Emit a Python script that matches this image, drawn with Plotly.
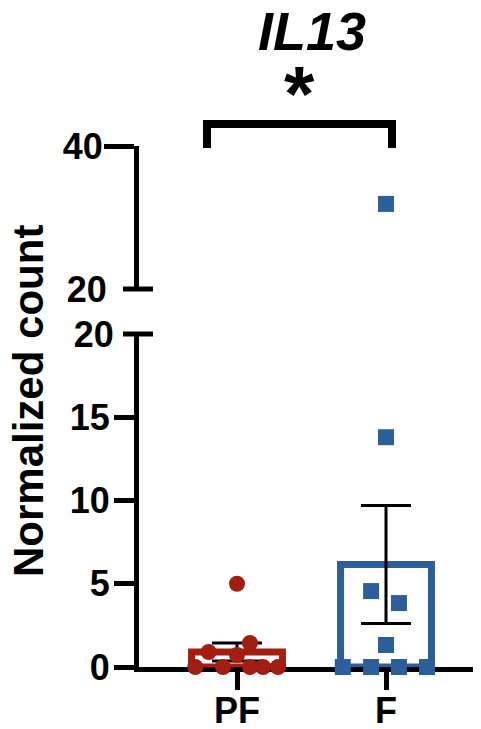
import numpy as np
import plotly.graph_objects as go

# ---- data ----
groups = ["PF", "F"]
pf_values = [5.0, 1.44, 0.9, 0.72, 0.0, 0.0, 0.0, 0.0, 0.0]
f_values = [31.9, 13.8, 4.56, 3.84, 1.32, 0.0, 0.0, 0.0, 0.0]
lower_ticks = [0, 5, 10, 15]
upper_ticks = [40]
break_value = 20

# horizontal scatter offsets of points (layout, not data)
pf_jitter = [0.0, 0.087, -0.19, 0.0, -0.28, -0.094, 0.087, 0.175, 0.275]
f_jitter = [0.0, 0.0, -0.1, 0.087, 0.0, -0.29, -0.1, 0.087, 0.275]

RED = "#A11E10"
BLUE = "#2C5E9B"
FONT = "Liberation Sans"

OFF = 8                      # page body margin
W, H = 481 - OFF, 729 - OFF


def px_(p):
    return (p - OFF) / W


def py(p):
    return 1 - (p - OFF) / H


low_dom = [py(667), py(334)]
up_dom = [py(289), py(146)]

fig = go.Figure()

means = [np.mean(pf_values), np.mean(f_values)]
sems = [np.std(pf_values, ddof=1) / np.sqrt(len(pf_values)),
        np.std(f_values, ddof=1) / np.sqrt(len(f_values))]
colors = [RED, BLUE]

for i, (m, s, c) in enumerate(zip(means, sems, colors)):
    fig.add_trace(go.Bar(
        x=[i], y=[m], width=0.61,
        marker=dict(color="rgba(255,255,255,0)", line=dict(color=c, width=7)),
        error_y=dict(type="data", array=[s], color="black", thickness=3, width=25),
        showlegend=False, hoverinfo="skip", cliponaxis=False,
    ))

for i, (vals, jit, c, sym) in enumerate([(pf_values, pf_jitter, RED, "circle"),
                                         (f_values, f_jitter, BLUE, "square")]):
    vals = np.array(vals)
    xs = i + np.array(jit)
    lo = vals <= break_value
    fig.add_trace(go.Scatter(
        x=xs[lo], y=vals[lo], mode="markers",
        marker=dict(symbol=sym, size=16, color=c, line=dict(width=0)),
        cliponaxis=False, showlegend=False,
    ))
    if (~lo).any():
        fig.add_trace(go.Scatter(
            x=xs[~lo], y=vals[~lo], mode="markers", yaxis="y2",
            marker=dict(symbol=sym, size=16, color=c, line=dict(width=0)),
            cliponaxis=False, showlegend=False,
        ))

# empty traces so the break-label axes are drawn
for ya in ("y3", "y4"):
    fig.add_trace(go.Scatter(x=[None], y=[None], yaxis=ya, mode="markers",
                             showlegend=False, hoverinfo="skip"))

tickfont = dict(family=FONT, size=36, color="black", weight=700)
axis_common = dict(showgrid=False, zeroline=False, ticks="outside",
                   tickwidth=5, tickcolor="black", tickfont=tickfont,
                   layer="below traces", automargin=False)
hidden_tick = {**axis_common, "tickcolor": "rgba(0,0,0,0)"}

x0px, x1px = 139, 481
xc0, xc1 = 237, 386
unit = xc1 - xc0
xr = [(x0px - xc0) / unit, 1 + (x1px - xc1) / unit]

fig.update_layout(
    width=W, height=H,
    margin=dict(l=0, r=0, t=0, b=0),
    paper_bgcolor="white", plot_bgcolor="white",
    barmode="overlay",
    xaxis=dict(domain=[px_(x0px), 1], range=xr, tickvals=[0, 1], ticktext=groups,
               showline=True, linewidth=5, linecolor="black", ticklen=18,
               ticklabelstandoff=-10, anchor="y", **axis_common),
    yaxis=dict(domain=low_dom, range=[0, 20], tickvals=lower_ticks,
               ticktext=[str(t) for t in lower_ticks],
               showline=True, linewidth=5, linecolor="black", ticklen=20,
               ticklabelstandoff=-3, anchor="x", **axis_common),
    yaxis3=dict(overlaying="y", range=[0, 20], tickvals=[break_value],
                ticktext=[str(break_value)], showline=False, ticklen=20,
                ticklabelstandoff=-3, anchor="x", **hidden_tick),
    yaxis2=dict(domain=up_dom, range=[20, 40], tickvals=upper_ticks,
                ticktext=[str(t) for t in upper_ticks],
                showline=True, linewidth=5, linecolor="black", ticklen=30,
                ticklabelstandoff=-6, anchor="x", **axis_common),
    yaxis4=dict(overlaying="y2", range=[20, 40], tickvals=[break_value],
                ticktext=[str(break_value)], showline=False, ticklen=30,
                ticklabelstandoff=-6, anchor="x", **hidden_tick),
)

# axis-break caps
for yy in (low_dom[1], up_dom[0]):
    fig.add_shape(type="line", xref="paper", yref="paper",
                  x0=px_(123), x1=px_(153), y0=yy, y1=yy,
                  line=dict(color="black", width=5))

# significance bracket
bx0, bx1 = px_(207), px_(392)
by0, by1 = py(124), py(148)
fig.add_shape(type="path", xref="paper", yref="paper",
              path=f"M {bx0},{by1} L {bx0},{by0} L {bx1},{by0} L {bx1},{by1}",
              line=dict(color="black", width=8))

fig.add_annotation(text="*", x=px_(299), y=py(94), xref="paper", yref="paper",
                   showarrow=False, xanchor="center", yanchor="middle",
                   font=dict(family=FONT, size=78, color="black", weight=700))
fig.add_annotation(text="<i>IL13</i>", x=px_(312), y=py(31), xref="paper", yref="paper",
                   showarrow=False, xanchor="center", yanchor="middle",
                   font=dict(family=FONT, size=54, color="black", weight=700))
fig.add_annotation(text="Normalized count", x=px_(28), y=py(401), xref="paper",
                   yref="paper", showarrow=False, textangle=-90,
                   xanchor="center", yanchor="middle",
                   font=dict(family=FONT, size=42, color="black", weight=700))

fig.write_html("out.html")
